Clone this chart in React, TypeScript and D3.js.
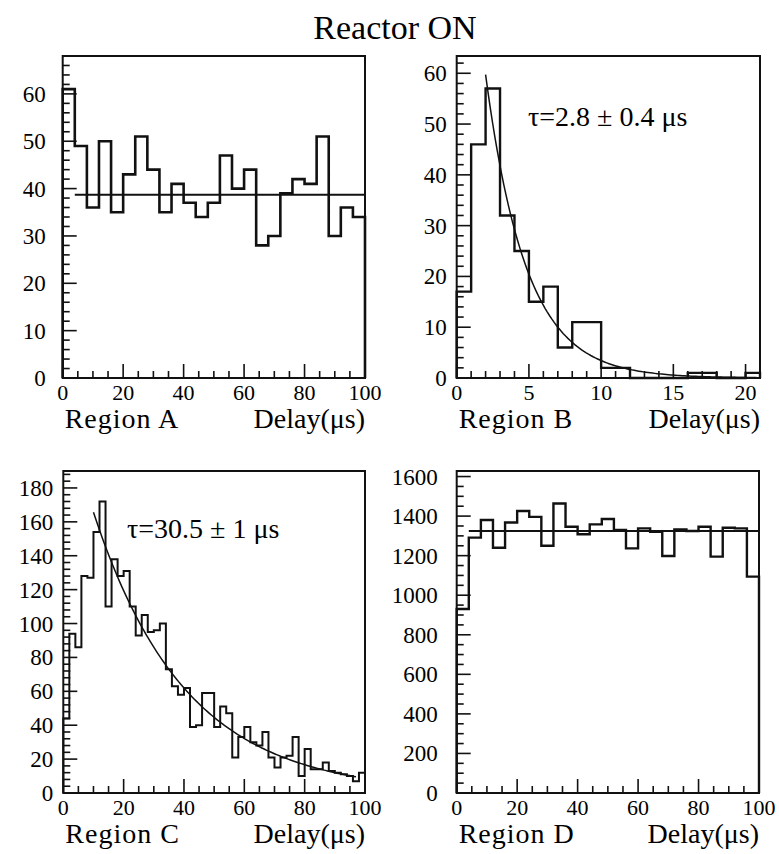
import React, { useRef, useEffect } from 'react';
import * as d3 from 'd3';

// counts per bin
const countsA = [61, 49, 36, 50, 35, 43, 51, 44, 35, 41, 37, 34, 37, 47, 40, 44, 28, 30, 39, 42, 41, 51, 30, 36, 34];
const countsB = [17, 46, 57, 32, 25, 15, 18, 6, 11, 11, 2, 2, 0, 0, 0, 0, 1, 1, 0, 0, 1];
const countsC = [44, 94, 86, 128, 127, 154, 172, 110, 138, 128, 131, 110, 93, 105, 95, 96, 100, 73, 63, 58,
  62, 39, 40, 59, 59, 39, 51, 47, 21, 33, 39, 30, 28, 36, 21, 15, 21, 22, 33, 10,
  26, 14, 14, 18, 13, 12, 11, 10, 7, 12];
const countsD = [930, 1291, 1380, 1240, 1368, 1426, 1396, 1250, 1464, 1346, 1308, 1358, 1385, 1330, 1237, 1338,
  1321, 1198, 1333, 1325, 1346, 1195, 1341, 1338, 1094];

// fit results
const flatA = 38.7;
const flatD = 1325;
const expB = { amp: 122, tau: 2.8 };
const expC = { amp: 230, tau: 30.5 };

const regionNames = ['Region A', 'Region B', 'Region C', 'Region D'];
const fitLabelB = 'τ=2.8 ± 0.4 μs';
const fitLabelC = 'τ=30.5 ± 1 μs';

const FONT = "'Liberation Serif', 'Times New Roman', 'DejaVu Serif', serif";

const App = () => {
    const svgRef = useRef(null);

    useEffect(() => {
        const svg = d3.select(svgRef.current);
        svg.selectAll("*").remove();

        const panels = [
            { counts: countsA, bw: 4, xMax: 100, yMax: 68, box: [62.7, 365, 56, 378], xMaj: 20, xMin: 5, yMaj: 10, yMin: 2, gap: 17, hw: 2.6,
              fit: { from: 4, to: 100, f: () => flatA } },
            { counts: countsB, bw: 1, xMax: 21, yMax: 63.4, box: [456.7, 760, 56, 378], xMaj: 5, xMin: 1, yMaj: 10, yMin: 2, gap: 10, hw: 2.4,
              fit: { from: 2, to: 21, f: t => expB.amp * Math.exp(-t / expB.tau) }, note: fitLabelB, noteX: 528, noteY: 126 },
            { counts: countsC, bw: 2, xMax: 100, yMax: 190, box: [63.3, 365, 471, 793], xMaj: 20, xMin: 5, yMaj: 20, yMin: 4, gap: 10, hw: 2,
              fit: { from: 10, to: 97, f: t => expC.amp * Math.exp(-t / expC.tau) }, note: fitLabelC, noteX: 127, noteY: 538 },
            { counts: countsD, bw: 4, xMax: 100, yMax: 1628, box: [456.7, 759, 471, 793], xMaj: 20, xMin: 5, yMaj: 200, yMin: 50, gap: 19, hw: 2.4,
              fit: { from: 4, to: 100, f: () => flatD } },
        ];

        // title
        svg.append("text")
            .attr("x", 395)
            .attr("y", 39)
            .attr("text-anchor", "middle")
            .attr("font-family", FONT)
            .attr("font-size", "34px")
            .text("Reactor ON");

        panels.forEach((p, i) => {
            const [left, right, top, bottom] = p.box;
            const x = d3.scaleLinear().domain([0, p.xMax]).range([left, right]);
            const y = d3.scaleLinear().domain([0, p.yMax]).range([bottom, top]);
            const g = svg.append("g");

            // minor + major ticks, pointing inwards
            d3.range(0, p.xMax + 1e-9, p.xMin).forEach(v => {
                const major = Math.abs(v / p.xMaj - Math.round(v / p.xMaj)) < 1e-6;
                g.append("line")
                    .attr("x1", x(v)).attr("x2", x(v))
                    .attr("y1", bottom).attr("y2", bottom - (major ? 14 : 7))
                    .attr("stroke", "#111").attr("stroke-width", 1.6);
                if (major) {
                    g.append("text")
                        .attr("x", x(v)).attr("y", bottom + 22)
                        .attr("text-anchor", "middle")
                        .attr("font-family", FONT).attr("font-size", "22px")
                        .text(v);
                }
            });
            d3.range(0, p.yMax + 1e-9, p.yMin).forEach(v => {
                const major = Math.abs(v / p.yMaj - Math.round(v / p.yMaj)) < 1e-6;
                g.append("line")
                    .attr("x1", left).attr("x2", left + (major ? 14 : 7))
                    .attr("y1", y(v)).attr("y2", y(v))
                    .attr("stroke", "#111").attr("stroke-width", 1.6);
                if (major) {
                    g.append("text")
                        .attr("x", left - p.gap).attr("y", y(v))
                        .attr("dy", "0.35em")
                        .attr("text-anchor", "end")
                        .attr("font-family", FONT).attr("font-size", "23px")
                        .text(v);
                }
            });

            // histogram outline
            const pts = [[0, 0]];
            p.counts.forEach((c, k) => {
                pts.push([k * p.bw, c]);
                pts.push([(k + 1) * p.bw, c]);
            });
            pts.push([p.counts.length * p.bw, 0]);
            g.append("path")
                .attr("d", d3.line().x(d => x(d[0])).y(d => y(d[1]))(pts))
                .attr("fill", "none")
                .attr("stroke", "#111")
                .attr("stroke-width", p.hw)
                .attr("stroke-linejoin", "miter");

            // fit
            const ts = d3.range(p.fit.from, p.fit.to + 1e-9, (p.fit.to - p.fit.from) / 120);
            g.append("path")
                .attr("d", d3.line().x(t => x(t)).y(t => y(p.fit.f(t)))(ts))
                .attr("fill", "none")
                .attr("stroke", "#111")
                .attr("stroke-width", i === 0 || i === 3 ? 2 : 1.5);

            // frame
            g.append("rect")
                .attr("x", left).attr("y", top)
                .attr("width", right - left).attr("height", bottom - top)
                .attr("fill", "none")
                .attr("stroke", "#111")
                .attr("stroke-width", 2);

            if (p.note) {
                g.append("text")
                    .attr("x", p.noteX).attr("y", p.noteY)
                    .attr("font-family", FONT).attr("font-size", "28px")
                    .text(p.note);
            }

            g.append("text")
                .attr("x", left + 2).attr("y", bottom + 50)
                .attr("font-family", FONT).attr("font-size", "28px")
                .attr("letter-spacing", "1px")
                .text(regionNames[i]);
            g.append("text")
                .attr("x", right).attr("y", bottom + 50)
                .attr("text-anchor", "end")
                .attr("font-family", FONT).attr("font-size", "28px")
                .text("Delay(μs)");
        });
    }, []);

    return <svg ref={svgRef} width={779} height={854} style={{ display: 'block', position: 'absolute', left: 0, top: 0, background: '#fff' }}></svg>;
};

export default App;
